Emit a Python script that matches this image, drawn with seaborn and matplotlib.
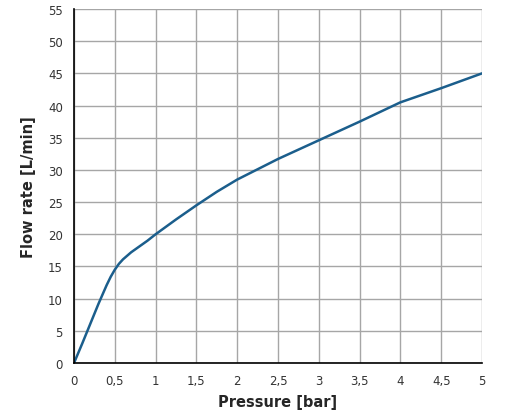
import numpy as np
import pandas as pd
import seaborn as sns
import matplotlib.pyplot as plt

# values
pressure = [0, 0.1, 0.2, 0.3, 0.4, 0.45, 0.5, 0.55, 0.6, 0.7, 0.8, 0.9, 1.0, 1.25,
            1.5, 1.75, 2.0, 2.5, 3.0, 3.5, 4.0, 4.5, 5.0]
flow = [0, 3.0, 6.1, 9.2, 12.1, 13.4, 14.5, 15.4, 16.1, 17.2, 18.1, 19.0, 20.0, 22.3,
        24.5, 26.6, 28.5, 31.7, 34.6, 37.5, 40.5, 42.7, 45.0]
x_ticks = [0, 0.5, 1, 1.5, 2, 2.5, 3, 3.5, 4, 4.5, 5]
x_labels = ['0', '0,5', '1', '1,5', '2', '2,5', '3', '3,5', '4', '4,5', '5']
y_ticks = list(range(0, 60, 5))

df = pd.DataFrame({'Pressure': pressure, 'Flow': flow})

sns.set_style('white')
plt.rcParams['font.family'] = ['DejaVu Sans']

fig = plt.figure(figsize=(5.08, 4.14), dpi=100)
ax = fig.add_axes([0.1457, 0.1208, 0.8031, 0.8550])

sns.lineplot(data=df, x='Pressure', y='Flow', color='#1b5e8c', linewidth=1.8, ax=ax)

ax.set_xlim(0, 5)
ax.set_ylim(0, 55)
ax.set_xticks(x_ticks)
ax.set_xticklabels(x_labels)
ax.set_yticks(y_ticks)
ax.grid(True, color='#a6a6a6', linewidth=1.0)
ax.set_axisbelow(True)

for s in ['top', 'right']:
    ax.spines[s].set_visible(False)
for s in ['left', 'bottom']:
    ax.spines[s].set_color('black')
    ax.spines[s].set_linewidth(1.2)
    ax.spines[s].set_zorder(3)

ax.tick_params(axis='both', direction='out', length=4, width=1, color='#808080',
               labelsize=8.5, labelcolor='#333333', pad=4)
ax.tick_params(axis='x', color='black')

ax.set_xlabel('Pressure [bar]', fontsize=10.5, fontweight='bold', labelpad=5)
ax.set_ylabel('Flow rate [L/min]', fontsize=10.5, fontweight='bold', labelpad=9)

fig.savefig('out.png', dpi=100)
